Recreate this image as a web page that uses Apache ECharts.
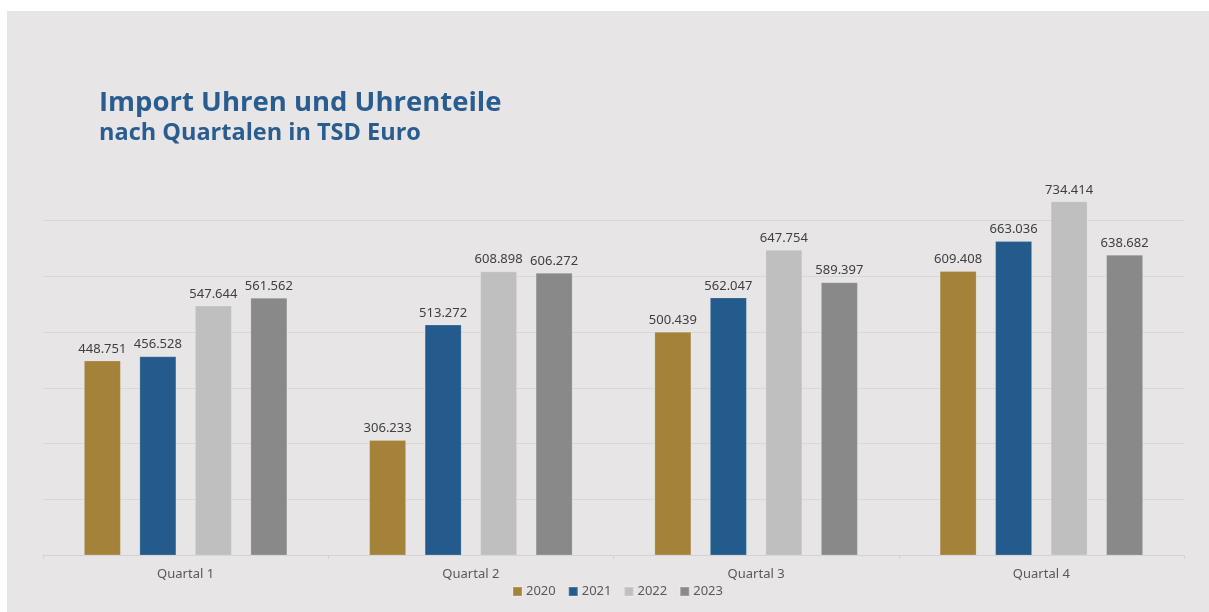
<!DOCTYPE html>
<html>
<head>
<meta charset="utf-8">
<title>Import Uhren und Uhrenteile</title>
<script src="https://cdn.jsdelivr.net/npm/echarts@6/dist/echarts.min.js"></script>
<style>
  html, body { margin: 0; padding: 0; background: #ffffff; }
  #chart { width: 1209px; height: 612px; }
</style>
</head>
<body>
<div id="chart"></div>
<script>
// Import of watches and watch parts per quarter, in thousand euro
const quarters = ['Quartal 1', 'Quartal 2', 'Quartal 3', 'Quartal 4'];
const years = ['2020', '2021', '2022', '2023'];
const values2020 = [448751, 306233, 500439, 609408];
const values2021 = [456528, 513272, 562047, 663036];
const values2022 = [547644, 608898, 647754, 734414];
const values2023 = [561562, 606272, 589397, 638682];
const seriesValues = [values2020, values2021, values2022, values2023];
const yearColors = ['#a4823a', '#245b8d', '#bfbfbf', '#898989'];

// German number format: 448751 -> "448.751"
function formatDe(v) {
  return String(Math.round(v)).replace(/\B(?=(\d{3})+(?!\d))/g, '.');
}

const chart = echarts.init(document.getElementById('chart'), null, { renderer: 'canvas' });

// the topmost line (800.000) only bounds the plot area and stays invisible
const gridLineColors = ['#d9d7d8', '#d9d7d8', '#d9d7d8', '#d9d7d8', '#d9d7d8', '#d9d7d8', '#d9d7d8', 'rgba(0,0,0,0)'];

chart.setOption({
  backgroundColor: '#ffffff',
  animation: false,
  textStyle: { fontFamily: 'Noto Sans' },
  graphic: [{
    type: 'rect',
    left: 7, top: 11,
    shape: { width: 1202, height: 601 },
    style: { fill: '#e7e5e6' },
    z: -10, silent: true
  }],
  title: [{
    text: 'Import Uhren und Uhrenteile',
    left: 99, top: 89, padding: 0,
    textStyle: { fontFamily: 'Open Sans', fontWeight: 'bold', fontSize: 27.5, color: '#2a5d8f' }
  }, {
    text: 'nach Quartalen in TSD Euro',
    left: 99, top: 121, padding: 0,
    textStyle: { fontFamily: 'Open Sans', fontWeight: 'bold', fontSize: 23.5, color: '#2a5d8f' }
  }],
  legend: {
    data: years,
    left: 512, top: 585,
    icon: 'rect', itemWidth: 9, itemHeight: 9, itemGap: 12,
    padding: 0,
    textStyle: { fontFamily: 'Noto Sans', fontSize: 13, color: '#595959', padding: [0, 0, 0, -1] }
  },
  grid: { left: 43, right: 25, top: 164.75, bottom: 57, containLabel: false },
  xAxis: {
    type: 'category',
    data: quarters,
    axisLine: { show: true, lineStyle: { color: '#d4d2d3', width: 1 } },
    axisTick: { show: true, length: 4, lineStyle: { color: '#d4d2d3' } },
    axisLabel: { color: '#595959', fontSize: 13, fontFamily: 'Noto Sans', margin: 13 }
  },
  yAxis: {
    type: 'value',
    min: 100000, max: 800000, interval: 100000,
    axisLine: { show: false },
    axisTick: { show: false },
    axisLabel: { show: false },
    splitLine: { show: true, lineStyle: { color: gridLineColors, width: 1 } }
  },
  series: seriesValues.map((vals, i) => ({
    name: years[i],
    type: 'bar',
    data: vals,
    barWidth: 37,
    barGap: '50%',
    itemStyle: { color: yearColors[i], borderColor: 'rgba(255,255,255,0.18)', borderWidth: 1 },
    label: {
      show: true, position: 'top', distance: 5,
      formatter: p => formatDe(p.value),
      color: '#404040', fontSize: 13, fontFamily: 'Noto Sans'
    }
  }))
});
</script>
</body>
</html>
